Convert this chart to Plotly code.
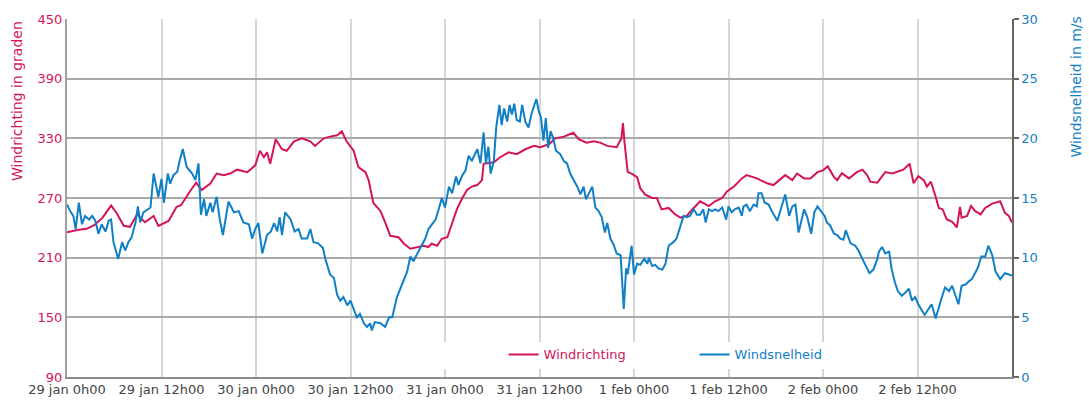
import pandas as pd
import plotly.graph_objects as go

# Wind direction (degrees): hours after 29 jan 0h00 and values
dir_hours = [0.0, 0.8, 1.5, 2.5, 3.5, 4.5, 5.0, 5.6, 6.3, 7.2, 8.0, 8.9, 9.9, 11.0, 11.6, 12.9,
             13.9, 14.5, 15.6, 16.4, 17.1, 18.2, 19.0, 19.9, 20.7, 21.6, 22.9, 23.9, 24.5, 25.0,
             25.4, 25.8, 26.5, 27.3, 27.9, 28.8, 29.8, 30.9, 31.5, 32.6, 33.4, 34.3, 34.9, 35.5,
             36.4, 37.0, 37.9, 38.3, 38.9, 39.8, 40.4, 41.05, 42.1, 42.8, 43.6, 44.4, 45.3, 45.9,
             46.3, 47.0, 47.6, 48.3, 48.9, 49.5, 50.2, 50.8, 51.4, 52.1, 52.7, 52.9, 54.2, 55.0,
             56.1, 57.1, 58.2, 59.3, 60.1, 61.2, 62.0, 63.1, 64.3, 65.0, 66.0, 66.9, 67.7, 68.6,
             69.8, 70.4, 70.6, 70.8, 71.2, 71.7, 72.4, 72.8, 73.4, 74.3, 74.9, 75.5, 76.4, 77.2,
             77.9, 78.7, 79.4, 80.4, 81.5, 82.3, 83.2, 83.8, 84.7, 85.7, 86.3, 87.6, 88.9, 89.7,
             91.2, 92.1, 92.7, 93.6, 94.4, 95.3, 96.0, 96.6, 97.4, 97.8, 98.4, 99.3, 100.3, 101.0,
             101.6, 102.0, 102.9, 103.9, 104.8, 105.4, 106.2, 107.0, 107.5, 108.1, 108.8, 109.2,
             109.7, 110.3, 110.7, 111.2, 111.7, 112.4, 113.0, 113.4, 113.6, 114.3, 114.8, 115.3,
             116.0, 116.6, 117.5, 118.5, 119.1, 119.6, 120.0]
dir_values = [235.6, 237, 238, 239, 243, 250, 256, 262.4, 255, 242, 241, 253.6, 245.6, 252, 242, 247,
              261, 263, 276.6, 285.4, 278, 284.6, 294.6, 293, 294.6, 298.5, 296, 302.8, 317.5, 311,
              316, 304.4, 329, 319, 317.5, 326.7, 330, 327, 322.4, 330, 331.7, 333, 337, 327,
              317.5, 301, 296, 288, 265, 257, 245.4, 232, 230.5, 224, 219, 220.7, 222, 220.7,
              224, 222, 229, 230.5, 245, 258.5, 270, 278, 281.5, 283, 288, 304.4, 306, 311,
              316, 314, 319, 322.4, 321, 324, 330, 331.7, 335.6, 329, 325.7, 327, 325.7, 322.4,
              321, 330, 345.4, 325.7, 296, 294.6, 291, 279.8, 273.6, 270, 270, 258.5, 260, 253.6,
              250.3, 252, 258.5, 266.7, 261.8, 266.7, 270, 276.6, 281.5, 289.7, 293, 289.7, 284.8, 283,
              293, 288, 294.6, 289.7, 289.7, 296, 297.8, 301.8, 291, 288, 295, 289.7, 296, 298.5,
              293, 286.4, 285.4, 296, 294.6, 296, 298.5, 304.4, 284.8, 292, 288, 281.5,
              286.4, 271.6, 260, 258.5, 248.7, 246, 240.5, 261, 250.3, 252, 262, 257,
              253.6, 260, 264.4, 266.7, 255, 252, 245.4]

# Wind speed (m/s): hours after 29 jan 0h00 and values
spd_hours = [0.0, 0.4, 0.8, 1.1, 1.5, 1.9, 2.3, 2.8, 3.2, 3.6, 4.0, 4.4, 4.9, 5.3, 5.6, 5.9, 6.5,
             7.0, 7.4, 7.8, 8.2, 8.7, 9.0, 9.3, 9.7, 10.2, 10.6, 11.0, 11.6, 12.0, 12.3, 12.8, 13.1,
             13.5, 14.0, 14.3, 14.7, 15.2, 15.9, 16.3, 16.7, 17.0, 17.4, 17.7, 18.2, 18.5, 19.0,
             19.4, 19.8, 20.5, 21.2, 21.8, 22.4, 23.1, 23.5, 23.9, 24.3, 24.8, 25.4, 25.9, 26.3,
             26.7, 27.0, 27.3, 27.7, 28.4, 28.9, 29.4, 29.8, 30.5, 30.9, 31.3, 31.9, 32.5, 32.8,
             33.4, 33.9, 34.3, 34.7, 35.1, 35.6, 36.0, 36.4, 36.8, 37.2, 37.7, 38.1, 38.5, 38.7,
             39.1, 39.8, 40.4, 40.9, 41.3, 41.9, 42.5, 43.2, 43.6, 44.0, 44.6, 45.0, 45.5, 45.9,
             46.3, 46.8, 47.2, 47.6, 48.0, 48.5, 48.9, 49.4, 49.7, 50.2, 50.6, 51.0, 51.4, 52.1,
             52.5, 52.9, 53.2, 53.5, 53.8, 54.2, 54.5, 54.9, 55.2, 55.5, 55.9, 56.2, 56.5, 56.8,
             57.1, 57.5, 57.8, 58.2, 58.6, 59.0, 59.6, 59.9, 60.2, 60.5, 60.8, 61.1, 61.4, 61.7,
             62.1, 62.6, 63.1, 63.5, 63.9, 64.3, 64.8, 65.2, 65.6, 65.9, 66.7, 67.1, 67.5, 67.9,
             68.3, 68.6, 69.0, 69.4, 69.8, 70.3, 70.5, 70.7, 71.0, 71.2, 71.7, 72.0, 72.4, 72.8,
             73.3, 73.7, 73.9, 74.3, 74.7, 75.1, 75.6, 76.0, 76.4, 77.0, 77.4, 77.9, 78.3, 78.7,
             79.1, 79.6, 80.0, 80.4, 80.8, 81.1, 81.5, 81.9, 82.3, 82.7, 83.2, 83.7, 84.0, 84.4,
             84.8, 85.3, 85.7, 85.9, 86.3, 86.7, 87.2, 87.6, 87.8, 88.2, 88.6, 89.1, 89.5, 90.2,
             90.8, 91.2, 91.7, 92.1, 92.5, 92.9, 93.6, 94.0, 94.5, 94.9, 95.3, 95.7, 96.2, 96.5,
             96.9, 97.4, 97.8, 98.2, 98.6, 98.9, 99.5, 100.1, 100.5, 101.0, 101.4, 101.9, 102.4,
             102.9, 103.1, 103.5, 103.9, 104.4, 104.7, 105.1, 105.5, 106.0, 106.5, 106.9, 107.3,
             107.7, 108.1, 108.6, 108.9, 109.4, 109.8, 110.3, 110.7, 111.1, 111.5, 112.0, 112.4,
             112.8, 113.2, 113.6, 114.1, 114.5, 114.9, 115.3, 115.7, 116.1, 116.6, 117.0, 117.5,
             117.9, 118.5, 119.1, 119.5, 120.0]
spd_values = [14.45, 13.9, 13.5, 12.4, 14.6, 12.8, 13.5, 13.2, 13.5, 13.1, 12.0, 12.8, 12.2, 13.1, 13.2, 11.3, 9.9,
              11.3, 10.6, 11.3, 11.7, 12.95, 14.3, 12.95, 13.8, 14.0, 14.2, 17.05, 15.1, 16.6, 14.6, 17.05, 16.2,
              16.9, 17.2, 18.1, 19.1, 17.6, 17.05, 16.5, 17.9, 13.6, 14.9, 13.5, 14.6, 13.8, 15.1,
              13.2, 11.9, 14.7, 13.8, 13.9, 12.95, 12.8, 11.6, 12.4, 12.9, 10.35, 11.9, 12.2, 12.9,
              12.2, 13.4, 11.9, 13.8, 13.2, 12.2, 12.4, 11.6, 11.6, 12.4, 11.3, 11.2, 10.8, 9.9,
              8.6, 8.3, 6.9, 6.4, 6.7, 6.0, 6.4, 5.6, 5.0, 5.3, 4.5, 4.2, 4.5, 3.9,
              4.6, 4.5, 4.2, 5.0, 5.0, 6.7, 7.75, 8.85, 10.1, 9.7, 10.5, 11.0, 11.6, 12.4,
              12.8, 13.2, 14.05, 15.0, 14.2, 15.95, 15.4, 16.8, 16.1, 16.9, 17.3, 18.55, 18.1, 19.1,
              17.9, 20.5, 17.9, 19.3, 17.05, 18.1, 20.9, 22.8, 21.1, 22.5, 21.4, 22.8, 22.0, 22.9,
              21.55, 21.4, 22.8, 21.4, 20.9, 22.1, 23.3, 22.3, 21.7, 19.8, 21.7, 19.2, 20.6, 20.1,
              18.96, 18.7, 18.1, 17.9, 17.05, 16.6, 15.95, 15.3, 15.95, 14.9, 15.95, 14.2, 13.9, 13.4,
              12.1, 12.9, 11.6, 11.1, 10.35, 10.2, 7.75, 5.7, 9.1, 8.6, 11.0, 8.6, 9.5, 9.4,
              9.9, 9.5, 10.0, 9.3, 9.4, 9.1, 9.0, 9.5, 11.0, 11.3, 11.6, 12.7, 13.5, 13.4,
              13.5, 14.05, 13.6, 13.6, 14.05, 12.95, 14.05, 13.9, 14.05, 13.9, 14.2, 13.2, 14.3, 13.8,
              14.05, 14.2, 13.5, 14.3, 14.45, 13.9, 14.45, 14.3, 15.4, 15.4, 14.6, 14.45, 13.9, 13.1,
              14.3, 15.3, 13.5, 14.3, 14.45, 12.1, 14.05, 13.4, 12.0, 13.8, 14.3, 13.9, 13.5, 12.95,
              12.7, 12.0, 11.9, 11.6, 11.5, 12.3, 11.2, 11.0, 10.6, 9.9, 9.4, 8.7, 9.0,
              9.9, 10.5, 10.9, 10.35, 10.5, 9.1, 8.0, 7.2, 6.8, 7.1, 7.4, 6.4,
              6.7, 6.1, 5.6, 5.2, 5.7, 6.1, 4.9, 5.85, 6.7, 7.5, 7.2, 7.65,
              6.9, 6.1, 7.65, 7.75, 8.0, 8.2, 8.7, 9.2, 10.1, 10.1, 11.0, 10.2,
              8.85, 8.2, 8.7, 8.6, 8.5]

# X-axis tick positions (hours) and labels
tick_hours = [0, 12, 24, 36, 48, 60, 72, 84, 96, 108]
tick_labels = ["29 jan 0h00", "29 jan 12h00", "30 jan 0h00", "30 jan 12h00", "31 jan 0h00",
               "31 jan 12h00", "1 feb 0h00", "1 feb 12h00", "2 feb 0h00", "2 feb 12h00"]

start = pd.Timestamp("2016-01-29 00:00")


def to_time(hours):
    return start + pd.to_timedelta(pd.Series(hours), unit="h")


CRIMSON = "#d4145a"
BLUE = "#0f7fc6"
FONT = "DejaVu Sans"

fig = go.Figure()
fig.add_trace(go.Scatter(
    x=to_time(dir_hours), y=dir_values, mode="lines",
    name=f"<span style='color:{CRIMSON}'>Windrichting</span>",
    line=dict(color=CRIMSON, width=2), yaxis="y",
))
fig.add_trace(go.Scatter(
    x=to_time(spd_hours), y=spd_values, mode="lines",
    name=f"<span style='color:{BLUE}'>Windsnelheid</span>",
    line=dict(color=BLUE, width=2), yaxis="y2",
))

# white band behind the legend that interrupts the vertical gridlines
fig.add_shape(type="rect", xref="paper", yref="paper", x0=0.31, x1=0.865, y0=0.022, y1=0.098,
              fillcolor="white", line_width=0, layer="above")

fig.update_layout(
    width=1089, height=409,
    margin=dict(l=67, r=77, t=12, b=31),
    paper_bgcolor="white", plot_bgcolor="white",
    font=dict(family=FONT, size=13, color="#444444"),
    showlegend=True,
    legend=dict(orientation="h", x=0.462, y=0.063, xanchor="left", yanchor="middle",
                bgcolor="rgba(255,255,255,0)", font=dict(size=13, family=FONT),
                entrywidth=146, itemwidth=30, tracegroupgap=0),
    xaxis=dict(
        type="date",
        range=[start, start + pd.Timedelta(hours=120)],
        tickvals=list(to_time(tick_hours)), ticktext=tick_labels,
        showgrid=True, gridcolor="#d6d6d6", gridwidth=2,
        showline=True, linecolor="#8c8c8c", linewidth=1.5,
        ticks="", tickfont=dict(size=13, color="#444444"),
        zeroline=False,
    ),
    yaxis=dict(
        range=[90, 450], tickvals=[90, 150, 210, 270, 330, 390, 450],
        showgrid=True, gridcolor="#a9a9a9", gridwidth=1.5,
        showline=True, linecolor="#a0a0a0", linewidth=2,
        ticks="", tickfont=dict(size=13, color=CRIMSON),
        zeroline=False,
    ),
    yaxis2=dict(
        range=[0, 30], tickvals=[0, 5, 10, 15, 20, 25, 30],
        overlaying="y", side="right", showgrid=False,
        showline=True, linecolor="#666666", linewidth=1.5,
        ticks="outside", ticklen=5, tickcolor="#666666", tickwidth=1.5,
        tickfont=dict(size=13, color=BLUE),
        zeroline=False,
    ),
    annotations=[
        dict(text="Windrichting in graden", xref="paper", yref="paper",
             x=-0.0529, y=1.0, xanchor="center", yanchor="top", textangle=-90,
             showarrow=False, font=dict(size=14, color=CRIMSON, family=FONT)),
        dict(text="Windsnelheid in m/s", xref="paper", yref="paper",
             x=1.0677, y=1.0137, xanchor="center", yanchor="top", textangle=-90,
             showarrow=False, font=dict(size=14, color=BLUE, family=FONT)),
    ],
)

fig.write_html("out.html")
